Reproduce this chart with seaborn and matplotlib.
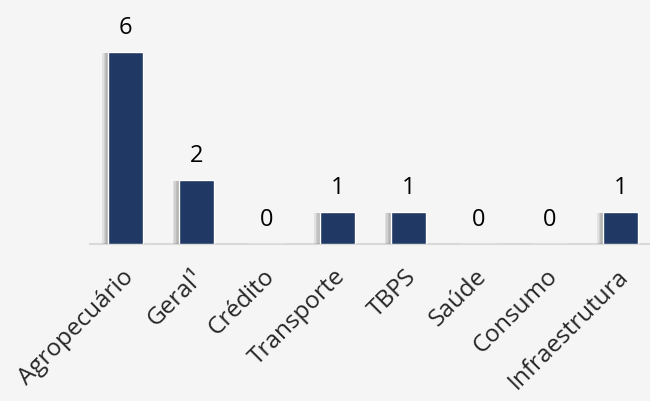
import matplotlib
matplotlib.use("Agg")
import matplotlib.pyplot as plt
import matplotlib.patheffects as pe
import matplotlib.transforms as mtransforms
import pandas as pd
import seaborn as sns

# categorias e valores
categorias = ["Agropecuário", "Geral¹", "Crédito", "Transporte", "TBPS", "Saúde", "Consumo", "Infraestrutura"]
valores = [6, 2, 0, 1, 1, 0, 0, 1]

df = pd.DataFrame({"categoria": categorias, "valor": valores})

sns.set_style("white")
plt.rcParams["font.family"] = ["Open Sans", "DejaVu Sans"]

fundo = "#f5f5f5"
azul = "#1f3864"

fig = plt.figure(figsize=(6.5, 4.01), dpi=100, facecolor=fundo)
ax = fig.add_axes([90.2 / 650, 157 / 401, 565.5 / 650, 208 / 401])
ax.set_facecolor(fundo)

sns.barplot(data=df, x="categoria", y="valor", color=azul, width=0.5,
            saturation=1, ax=ax, zorder=3)

# sombra suave à esquerda das barras (várias camadas para imitar o desfoque)
for p in ax.patches:
    if p.get_height() > 0:
        camadas = [pe.SimplePatchShadow(offset=(-d, -0.5), shadow_rgbFace="#555555", alpha=0.12)
                   for d in (4, 3, 2, 1)]
        p.set_path_effects(camadas + [pe.Normal()])

ax.bar_label(ax.containers[0], fontsize=17, padding=9, color="black")

ax.set_ylim(0, 6.5)
ax.set_xlim(-0.5, 7.5)
ax.set_xlabel("")
ax.set_ylabel("")
ax.set_yticks([])
ax.tick_params(axis="x", length=0, pad=15)
desloc = mtransforms.ScaledTranslation(-4 / 100, 0, fig.dpi_scale_trans)
for lbl in ax.get_xticklabels():
    lbl.set_rotation(45)
    lbl.set_ha("right")
    lbl.set_rotation_mode("anchor")
    lbl.set_fontsize(17.5)
    lbl.set_transform(lbl.get_transform() + desloc)

sns.despine(ax=ax, left=True)
ax.spines["bottom"].set_color("#d9d9d9")
ax.spines["bottom"].set_linewidth(1.5)

fig.savefig("out.png", dpi=100, facecolor=fundo)
